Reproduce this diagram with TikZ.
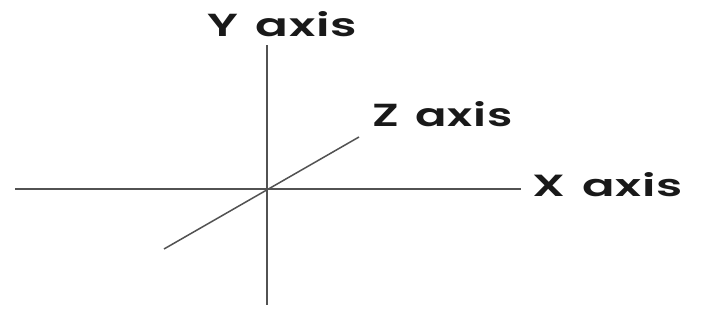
\documentclass[tikz,border=0pt]{standalone}
\usepackage{fontspec}
\setmainfont{Poppins}
\newfontfamily\lblfont{Poppins}[UprightFont=* SemiBold, LetterSpace=2]
\begin{document}
\begin{tikzpicture}[x=1pt,y=1pt,
  axisline/.style={line width=2pt, draw=black!68},
  lbl/.style={inner sep=0pt, outer sep=0pt, anchor=south west, text=black!90}]
\useasboundingbox[fill=white] (0,0) rectangle (705,336);
\coordinate (O) at (267,147);
\coordinate (xl) at (15,147);
\coordinate (xr) at (521,147);
\coordinate (yt) at (267,291);
\coordinate (yb) at (267,31);
\coordinate (zl) at (164,87);
\coordinate (zr) at (359,199);
\draw[axisline] (xl) -- (xr);
\draw[axisline] (yb) -- (yt);
\draw[axisline, line width=1.5pt] (zl) -- (zr);
\node[lbl] (ylab) at (207,299) {\resizebox{150pt}{25pt}{\lblfont Y\hspace{0.1em} axis}};
\node[lbl] (zlab) at (372,209) {\resizebox{141pt}{25pt}{\lblfont Z\hspace{0.1em} axis}};
\node[lbl] (xlab) at (532,139) {\resizebox{151pt}{24pt}{\lblfont X\hspace{0.1em} axis}};
\end{tikzpicture}
\end{document}
